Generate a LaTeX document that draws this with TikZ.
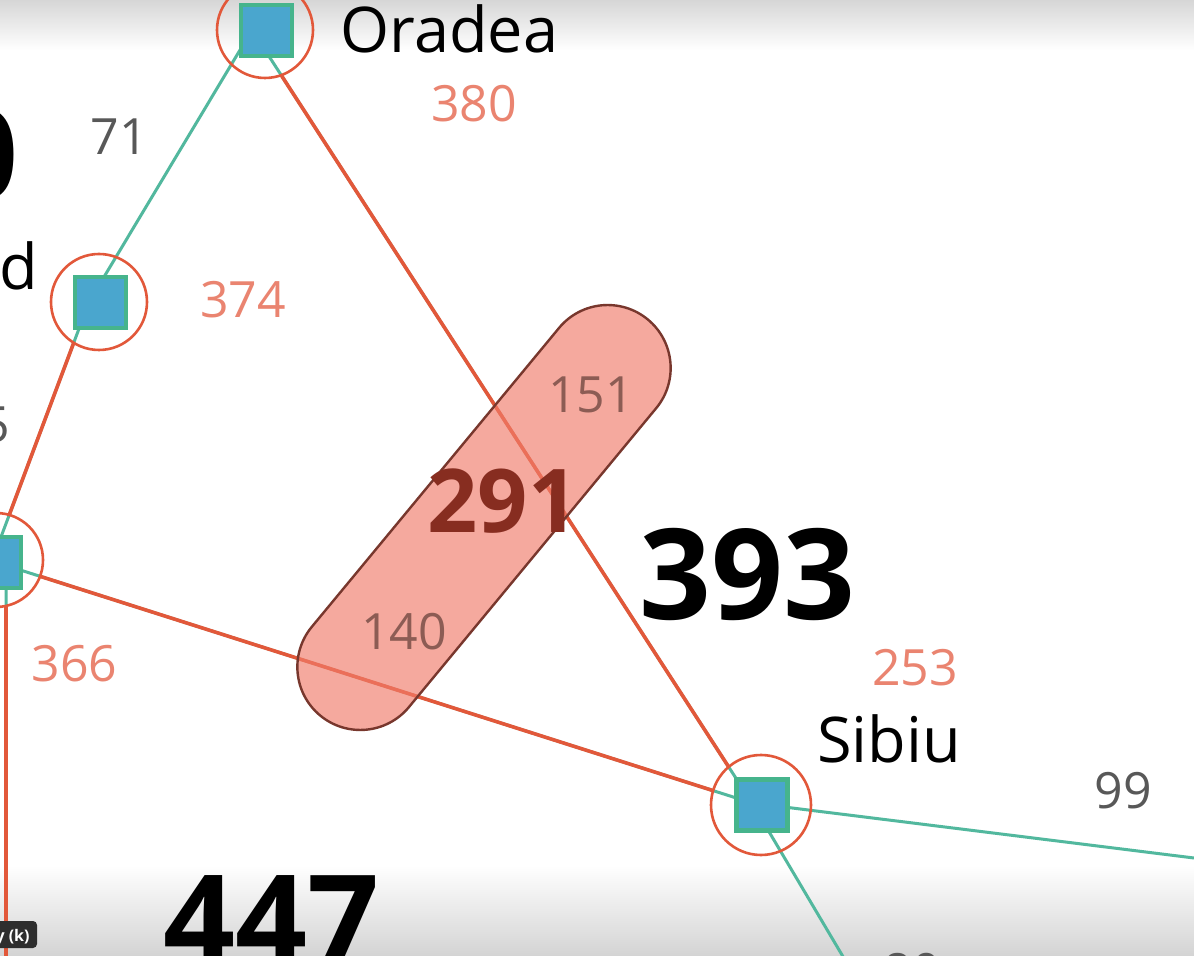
\documentclass[tikz,border=0pt]{standalone}
\usepackage{fontspec}
\setmainfont{Open Sans}
\definecolor{roadteal}{RGB}{82,184,158}
\definecolor{roadred}{RGB}{226,88,58}
\definecolor{sqblue}{RGB}{74,166,206}
\definecolor{sqgreen}{RGB}{70,180,140}
\definecolor{hsalmon}{RGB}{234,132,112}
\definecolor{dgray}{RGB}{88,88,88}
\definecolor{pillfill}{RGB}{241,124,106}
\definecolor{pilledge}{RGB}{120,55,45}
\definecolor{pilltext}{RGB}{140,92,84}
\definecolor{fred}{RGB}{135,45,32}
\begin{document}
\begin{tikzpicture}[x=0.5pt,y=-0.5pt,
  tealroad/.style={roadteal, line width=1.5pt},
  redroad/.style={roadred, line width=1.8pt},
  ring/.style={circle, draw=roadred, line width=1.3pt, inner sep=0pt, minimum size=#1},
  city/.style={rectangle, fill=sqblue, draw=sqgreen, line width=2.2pt, minimum size=25.5pt, inner sep=0pt},
  cityname/.style={font=\fontsize{31.5}{36}\selectfont, text=black, inner sep=0pt},
  hval/.style={font=\fontsize{25}{30}\selectfont, text=hsalmon, inner sep=0pt},
  dist/.style={font=\fontsize{25}{30}\selectfont, text=dgray, inner sep=0pt},
  fbig/.style={font=\fontsize{63}{70}\selectfont\bfseries, text=black, inner sep=0pt},
]
\useasboundingbox (0,0) rectangle (1194,956);
\clip (0,0) rectangle (1194,956);
\fill[white] (0,0) rectangle (1194,956);
\shade[top color=black!16, bottom color=white] (0,0) rectangle (1194,50);
\shade[top color=white, bottom color=black!17] (0,865) rectangle (1194,956);

% road hubs
\coordinate (O) at (252,30);
\coordinate (Z) at (89,302);
\coordinate (A) at (-8,561);
\coordinate (S) at (752,803);
\coordinate (T) at (6,960);
\coordinate (F) at (1194,858);
\coordinate (R) at (845,960);

% base map roads
\draw[tealroad] (O) -- (Z) (Z) -- (A) (O) -- (S) (A) -- (S) (S) -- (F) (S) -- (R) (T |- A) -- (T);

% highlighted roads, outside the rings
\begin{scope}[even odd rule]
\clip (-50,-50) rectangle (1250,1010)
  (265,30) circle (48) (99,302) circle (48) (-4,560) circle (47) (761,805) circle (50);
\draw[redroad] (O) -- (S) (A) -- (S) (Z) -- (A) (T |- A) -- (T);
\end{scope}

% rings and cities
\node[ring=48pt] (oRing) at (265,30) {};
\node[ring=48pt] (zRing) at (99,302) {};
\node[ring=47pt] (aRing) at (-4,560) {};
\node[ring=50pt] (sRing) at (761,805) {};
\node[city] (oSq) at (266.5,30.5) {};
\node[city] (zSq) at (100.5,302.5) {};
\node[city] (aSq) at (-4.5,562.5) {};
\node[city] (sSq) at (762,805) {};

% names
\node[cityname, anchor=base] (oName) at (449.5,53) {Oradea};
\node[cityname, anchor=base] (sName) at (889,762) {Sibiu};
\node[cityname, anchor=base east] (zName) at (38,290) {Zerind};

% heuristic values
\node[hval, anchor=base] (h380) at (474,122) {380};
\node[hval, anchor=base] (h374) at (243,318) {374};
\node[hval, anchor=base] (h366) at (74.5,682) {366};
\node[hval, anchor=base] (h253) at (915,685) {253};

% distances
\node[dist, anchor=base] (d71) at (119,155) {71};
\node[dist, anchor=base] (d99) at (1123,808) {99};
\node[dist, anchor=base east] (d75) at (10,443) {75};
\node[dist, anchor=base] (d80) at (912,989) {80};

% big totals
\node[fbig, anchor=base] (t393) at (747,620) {393};
\node[fbig, anchor=base] (t447) at (271,965) {447};
\node[fbig, anchor=base east] (t0) at (19,200) {0};

% pill
\begin{scope}[shift={(484,517.5)}, rotate=50.4]
\draw[draw=pilledge, fill=pillfill, fill opacity=0.65, line width=1.2pt, rounded corners=31.5pt] (-257,-63) rectangle (257,63);
\end{scope}
\node[dist, text=pilltext, anchor=base] (p151) at (591,413) {151};
\node[dist, text=pilltext, anchor=base] (p140) at (404,650) {140};
\node[font=\fontsize{44}{50}\selectfont\bfseries, text=fred, inner sep=0pt, anchor=base] (p291) at (503,533) {291};

% player tooltip
\begin{scope}
\fill[black!82, rounded corners=2pt] (-10,921) rectangle (37,948);
\clip (0,921) rectangle (37,948);
\node[font=\fontsize{8}{9}\selectfont\bfseries, text=white, inner sep=0pt, anchor=base east] (tip) at (30,941) {Play (k)};
\end{scope}
\end{tikzpicture}
\end{document}
